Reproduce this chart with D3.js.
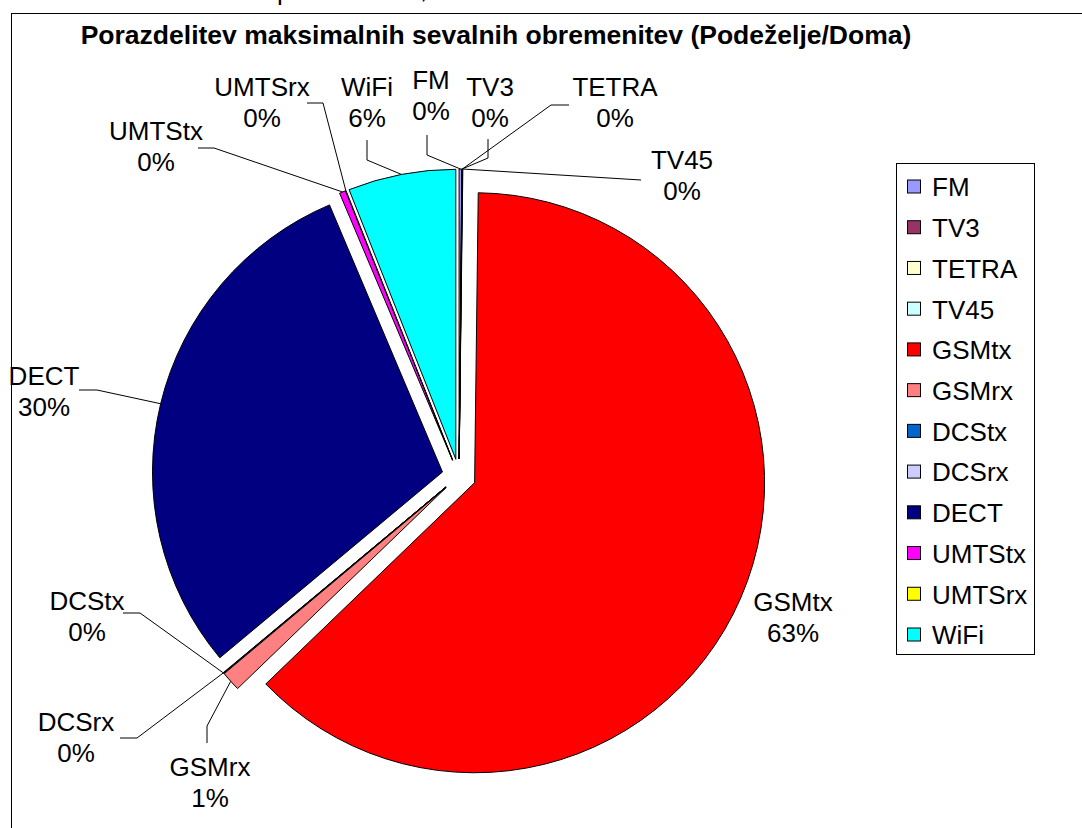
<!DOCTYPE html>
<html>
<head>
<meta charset="utf-8">
<script src="https://cdn.jsdelivr.net/npm/d3@7"></script>
<style>
  body { margin: 0; background: #fff; }
  svg { display: block; font-family: "Liberation Sans", Arial, sans-serif; }
</style>
</head>
<body>
<div id="chart"></div>
<script>
// data, in the order Excel draws the slices (clockwise from 12 o'clock)
const categories = ["FM", "TV3", "TETRA", "TV45", "GSMtx", "GSMrx", "DCStx", "DCSrx", "DECT", "UMTStx", "UMTSrx", "WiFi"];
const values = [0.15, 0.02, 0.01, 0.02, 62.6, 1.1, 0.02, 0.02, 29.7, 0.35, 0.02, 6.0];
const colors = ["#9999ff", "#993366", "#ffffcc", "#ccffff", "#ff0000", "#ff8080", "#0066cc", "#ccccff", "#000080", "#ff00ff", "#ffff00", "#00ffff"];
const title = "Porazdelitev maksimalnih sevalnih obremenitev (Podeželje/Doma)";

// where Excel put each data label (center of first line) and the leader's bend points
const labelLayout = {
    FM: { x: 431, y: 80, leader: [[427, 135], [427, 155]] },
    TV3: { x: 490, y: 87, leader: [[488, 139], [488, 158]] },
    TETRA: { x: 615, y: 87, leader: [[569, 105], [551, 105]] },
    TV45: { x: 682, y: 160, leader: [[641, 180]] },
    GSMtx: { x: 793, y: 602, leader: null },
    GSMrx: { x: 210, y: 767, leader: [[207, 743], [207, 726]] },
    DCStx: { x: 87, y: 601, leader: [[123, 613], [140, 613]] },
    DCSrx: { x: 76, y: 722, leader: [[120, 738], [137, 738]] },
    DECT: { x: 44, y: 376, leader: [[79, 390], [97, 390]] },
    UMTStx: { x: 156, y: 131, leader: [[198, 148], [214, 148]] },
    UMTSrx: { x: 262, y: 87, leader: [[307, 103], [323, 103]] },
    WiFi: { x: 367, y: 87, leader: [[367, 140], [367, 160]] }
};

const width = 1082, height = 828;
const center = { x: 459, y: 476 };
const radius = 290;
const explode = 17;
const fontSize = 26;
const lineGap = 31;

const svg = d3.select("#chart").append("svg")
    .attr("width", width)
    .attr("height", height);

svg.append("rect")
    .attr("width", width)
    .attr("height", height)
    .attr("fill", "#fff");

// bits of the caption line above the chart, cut off by the crop
svg.append("text").attr("x", 277).attr("y", 0).attr("font-size", fontSize).text("p");
svg.append("text").attr("x", 420).attr("y", -2).attr("font-size", fontSize).text(",");

// chart frame (runs off the right and bottom edge)
svg.append("rect")
    .attr("x", 11.5)
    .attr("y", 13.5)
    .attr("width", 1200)
    .attr("height", 1000)
    .attr("fill", "none")
    .attr("stroke", "#000")
    .attr("stroke-width", 1);

svg.append("text")
    .attr("x", 496)
    .attr("y", 44)
    .attr("text-anchor", "middle")
    .attr("font-size", 26.5)
    .attr("font-weight", "bold")
    .text(title);

const total = d3.sum(values);
const pie = d3.pie().sort(null).value(d => d)(values);
const arc = d3.arc().innerRadius(0).outerRadius(radius);
const rim = d3.arc().innerRadius(radius).outerRadius(radius);

const offset = d => {
    const mid = (d.startAngle + d.endAngle) / 2;
    return [center.x + explode * Math.sin(mid), center.y - explode * Math.cos(mid)];
};

const slices = svg.append("g");
slices.selectAll("path")
    .data(pie)
    .join("path")
    .attr("transform", d => `translate(${offset(d)})`)
    .attr("d", arc)
    .attr("fill", (d, i) => colors[i])
    .attr("stroke", "#000")
    .attr("stroke-width", 1)
    .attr("stroke-linejoin", "round");

// leader lines
const leaders = svg.append("g")
    .attr("fill", "none")
    .attr("stroke", "#000")
    .attr("stroke-width", 1);

pie.forEach((d, i) => {
    const lay = labelLayout[categories[i]];
    if (!lay.leader) return;
    const o = offset(d);
    const c = rim.centroid(d);
    const pts = lay.leader.concat([[o[0] + c[0], o[1] + c[1]]]);
    leaders.append("path").attr("d", d3.line()(pts));
});

// data labels
const labels = svg.append("g")
    .attr("font-size", fontSize)
    .attr("text-anchor", "middle");

pie.forEach((d, i) => {
    const lay = labelLayout[categories[i]];
    const t = labels.append("text")
        .attr("x", lay.x)
        .attr("y", lay.y + fontSize * 0.36);
    t.append("tspan").attr("x", lay.x).text(categories[i]);
    t.append("tspan").attr("x", lay.x).attr("dy", lineGap)
        .text(Math.round(d.value / total * 100) + "%");
});

// legend
const legend = svg.append("g");
legend.append("rect")
    .attr("x", 896.5)
    .attr("y", 163.5)
    .attr("width", 138)
    .attr("height", 491)
    .attr("fill", "#fff")
    .attr("stroke", "#000")
    .attr("stroke-width", 1);

const legendY = d3.scalePoint()
    .domain(categories)
    .range([187, 635]);

const item = legend.selectAll("g.item")
    .data(categories)
    .join("g")
    .attr("class", "item")
    .attr("transform", d => `translate(0, ${legendY(d)})`);

item.append("rect")
    .attr("x", 907.5)
    .attr("y", -7)
    .attr("width", 13)
    .attr("height", 13)
    .attr("fill", (d, i) => colors[i])
    .attr("stroke", "#000")
    .attr("stroke-width", 1);

item.append("text")
    .attr("x", 932)
    .attr("y", fontSize * 0.36)
    .attr("font-size", fontSize)
    .text(d => d);
</script>
</body>
</html>
